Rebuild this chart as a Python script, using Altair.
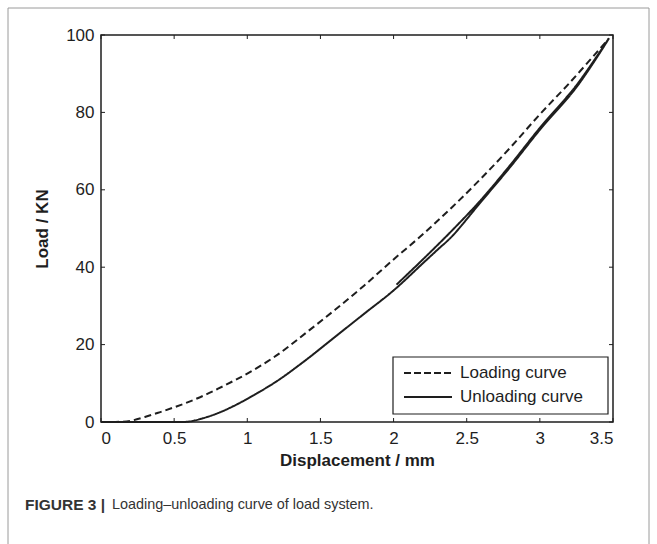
import altair as alt
import pandas as pd

# Loading branch (dashed)
load_disp = [0, 0.1, 0.2, 0.3, 0.4, 0.5, 0.6, 0.7, 0.8, 0.9, 1.0, 1.2, 1.4, 1.6,
             1.8, 2.0, 2.2, 2.4, 2.6, 2.8, 3.0, 3.2, 3.4, 3.47]
load_force = [0, 0, 0.3, 1.3, 2.5, 3.8, 5.2, 6.8, 8.6, 10.5, 12.5, 17.2, 23, 29,
              35.3, 42, 48.5, 55.5, 63, 71, 79.5, 87.5, 96, 99]

# Unloading branch (solid): short reload trace up to the peak, then unloading to zero
unload_disp = [2.02, 2.2, 2.4, 2.6, 2.8, 3.0, 3.25, 3.47, 3.25, 3.0, 2.8, 2.6, 2.4,
               2.3, 2.2, 2.0, 1.8, 1.6, 1.4, 1.2, 1.0, 0.9, 0.8, 0.7, 0.6, 0.5, 0.0]
unload_force = [35.5, 42, 49.5, 57.5, 66.5, 76, 87, 99, 86.5, 75.5, 66, 57, 48,
                44.5, 41, 34, 28, 22, 16, 10.5, 6, 4, 2.3, 1, 0.1, 0, 0]

series_names = ["Loading curve", "Unloading curve"]
x_ticks = [0, 0.5, 1, 1.5, 2, 2.5, 3, 3.5]
y_ticks = [0, 20, 40, 60, 80, 100]

W, H = 512, 387
INK = "#1e1e1e"
FONT = "Liberation Sans"

rows = []
for i, (d, f) in enumerate(zip(load_disp, load_force)):
    rows.append({"d": d, "f": f, "series": series_names[0], "order": i})
for i, (d, f) in enumerate(zip(unload_disp, unload_force)):
    rows.append({"d": d, "f": f, "series": series_names[1], "order": i})
df = pd.DataFrame(rows)

xscale = alt.Scale(domain=[0, 3.5], nice=False, zero=False)
yscale = alt.Scale(domain=[0, 100], nice=False)

lines = alt.Chart(df).mark_line(
    strokeWidth=2, color=INK, strokeCap="butt", interpolate="catmull-rom"
).encode(
    x=alt.X("d:Q", scale=xscale,
            axis=alt.Axis(values=x_ticks, title="Displacement / mm", ticks=False,
                          format="~g", labelPadding=8, titlePadding=6, grid=False)),
    y=alt.Y("f:Q", scale=yscale,
            axis=alt.Axis(values=y_ticks, title="Load / KN", ticks=False,
                          labelPadding=7, titlePadding=14, grid=False)),
    strokeDash=alt.StrokeDash("series:N", legend=None,
                              scale=alt.Scale(domain=series_names, range=[[7, 4], [1, 0]])),
    detail="series:N",
    order="order:Q",
)

# Inward tick marks on all four sides
xt = pd.DataFrame({"d": x_ticks})
yt = pd.DataFrame({"f": y_ticks})
tick_style = dict(color=INK, strokeWidth=1)
ticks_bottom = alt.Chart(xt).mark_rule(**tick_style).encode(
    x=alt.X("d:Q", scale=xscale), y=alt.value(H), y2=alt.value(H - 4))
ticks_top = alt.Chart(xt).mark_rule(**tick_style).encode(
    x=alt.X("d:Q", scale=xscale), y=alt.value(0), y2=alt.value(4))
ticks_left = alt.Chart(yt).mark_rule(**tick_style).encode(
    y=alt.Y("f:Q", scale=yscale), x=alt.value(0), x2=alt.value(4))
ticks_right = alt.Chart(yt).mark_rule(**tick_style).encode(
    y=alt.Y("f:Q", scale=yscale), x=alt.value(W), x2=alt.value(W - 4))

# Boxed legend in the lower right corner
leg = pd.DataFrame({"series": series_names, "row": [0, 1]})
legend_box = alt.Chart(leg.head(1)).mark_rect(
    fill="white", stroke=INK, strokeWidth=1.2).encode(
    x=alt.value(292), x2=alt.value(507), y=alt.value(322), y2=alt.value(379))
legend_dash = alt.Chart(leg.head(1)).mark_rule(
    color=INK, strokeWidth=2, strokeDash=[7, 3]).encode(
    x=alt.value(303), x2=alt.value(351), y=alt.value(338))
legend_solid = alt.Chart(leg.tail(1)).mark_rule(color=INK, strokeWidth=2).encode(
    x=alt.value(303), x2=alt.value(351), y=alt.value(362))
legend_text_a = alt.Chart(leg.head(1)).mark_text(
    align="left", baseline="middle", font=FONT, fontSize=17, color=INK).encode(
    x=alt.value(359), y=alt.value(338), text="series:N")
legend_text_b = alt.Chart(leg.tail(1)).mark_text(
    align="left", baseline="middle", font=FONT, fontSize=17, color=INK).encode(
    x=alt.value(359), y=alt.value(362), text="series:N")

# Figure caption and frame
cap = pd.DataFrame({"a": ["FIGURE 3 |"], "b": ["Loading\u2013unloading curve of load system."]})
caption_bold = alt.Chart(cap).mark_text(
    align="left", baseline="middle", font=FONT, fontSize=15.5, fontWeight="bold",
    color="#333333").encode(x=alt.value(-76), y=alt.value(470), text="a:N")
caption_text = alt.Chart(cap).mark_text(
    align="left", baseline="middle", font=FONT, fontSize=14.4, color="#333333").encode(
    x=alt.value(11), y=alt.value(470), text="b:N")
frame_style = dict(color="#9a9a9a", strokeWidth=1)
frame_top = alt.Chart(cap).mark_rule(**frame_style).encode(
    x=alt.value(-93), x2=alt.value(548), y=alt.value(-27))
frame_left = alt.Chart(cap).mark_rule(**frame_style).encode(
    x=alt.value(-93), y=alt.value(-27), y2=alt.value(509))
frame_right = alt.Chart(cap).mark_rule(**frame_style).encode(
    x=alt.value(548), y=alt.value(-27), y2=alt.value(509))

chart = alt.layer(
    lines, ticks_bottom, ticks_top, ticks_left, ticks_right,
    legend_box, legend_dash, legend_solid, legend_text_a, legend_text_b,
    caption_bold, caption_text, frame_top, frame_left, frame_right,
).properties(
    width=W, height=H,
    padding={"left": 101, "top": 35, "right": 44, "bottom": 122},
    autosize=alt.AutoSizeParams(type="none"),
    background="white",
).configure_view(
    stroke=INK, strokeWidth=1.5, clip=False
).configure_axis(
    domain=False, labelFont=FONT, labelFontSize=17, labelColor=INK,
    titleFont=FONT, titleFontSize=17, titleFontWeight="bold", titleColor=INK,
)

chart.save("out.html", embed_options={"renderer": "svg", "actions": False})
